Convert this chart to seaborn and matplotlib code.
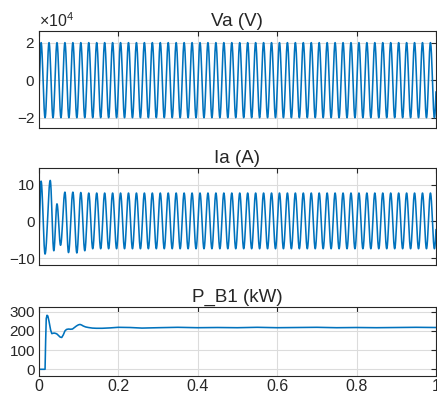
import numpy as np
import pandas as pd
import matplotlib
matplotlib.use("Agg")
import matplotlib.pyplot as plt
import seaborn as sns
from matplotlib.ticker import ScalarFormatter

# ---------------- data ----------------
freq_hz = 50.0
t_first_peak = 0.006          # time of first positive peak (s)
t_end = 1.0

# Va (V): start value, then alternating peaks/troughs
va_start = -0.6e4
va_peak = 2.0e4
va_trough = -2.0e4

# Ia (A): start value, transient extremes, then steady peaks/troughs
ia_start = -4.5
ia_trans_t = [0.006, 0.016, 0.029, 0.038, 0.046, 0.055, 0.066, 0.075, 0.086, 0.096, 0.106, 0.116]
ia_trans_v = [11.0, -8.9, 11.2, -8.0, 4.8, -6.5, 8.0, -8.5, 8.0, -8.6, 7.9, -8.0]
ia_peak = 7.75
ia_trough = -7.45

# P_B1 (kW): key points of the averaged power curve
p_t = [0.0, 0.016, 0.0175, 0.019, 0.021, 0.023, 0.026, 0.030, 0.033, 0.036, 0.039, 0.043,
       0.046, 0.050, 0.054, 0.058, 0.062, 0.066, 0.070, 0.075, 0.080, 0.085, 0.090, 0.095,
       0.100, 0.104, 0.108, 0.112, 0.118, 0.125, 0.135, 0.145, 0.160, 0.180, 0.200, 0.230,
       0.260, 0.300, 0.350, 0.400, 0.450, 0.500, 0.550, 0.600, 0.650, 0.700, 0.750, 0.800,
       0.850, 0.900, 0.950, 1.000]
p_v = [0, 0, 150, 265, 282, 278, 250, 205, 186, 188, 189, 187,
       184, 176, 168, 166, 180, 200, 208, 210, 209, 210, 218, 226,
       232, 234, 231, 226, 221, 218, 215, 214, 214, 216, 219, 218,
       215, 217, 219, 217, 218, 217, 219, 217, 218, 219, 217, 218,
       217, 218, 219, 218]

titles = ["Va (V)", "Ia (A)", "P_B1 (kW)"]
x_ticks = [0, 0.2, 0.4, 0.6, 0.8, 1.0]
x_ticklabels = ["0", "0.2", "0.4", "0.6", "0.8", "1"]
va_yticks = [-2e4, 0, 2e4]
ia_yticks = [-10, 0, 10]
p_yticks = [0, 100, 200, 300]


def extremes_to_wave(times, values, n_per_seg=40):
    """Half-cosine segments between consecutive extremes."""
    ts, vs = [], []
    for i in range(len(times) - 1):
        ta, tb = times[i], times[i + 1]
        a, b = values[i], values[i + 1]
        s = np.linspace(0, 1, n_per_seg, endpoint=False)
        ts.append(ta + s * (tb - ta))
        vs.append((a + b) / 2 + (a - b) / 2 * np.cos(np.pi * s))
    ts.append([times[-1]])
    vs.append([values[-1]])
    return np.concatenate(ts), np.concatenate(vs)


half = 0.5 / freq_hz
# Va extremes
va_t = [0.0]
va_v = [va_start]
k = 0
while t_first_peak + k * half <= t_end + half:
    va_t.append(t_first_peak + k * half)
    va_v.append(va_peak if k % 2 == 0 else va_trough)
    k += 1
va_tt, va_vv = extremes_to_wave(va_t, va_v)

# Ia extremes
ia_t = [0.0] + list(ia_trans_t)
ia_v = [ia_start] + list(ia_trans_v)
k = 1
while ia_trans_t[-1] + k * half <= t_end + half:
    ia_t.append(ia_trans_t[-1] + k * half)
    ia_v.append(ia_peak if k % 2 == 1 else ia_trough)
    k += 1
ia_tt, ia_vv = extremes_to_wave(ia_t, ia_v)

df_va = pd.DataFrame({"t": va_tt, "v": va_vv})
df_va = df_va[df_va.t <= t_end]
df_ia = pd.DataFrame({"t": ia_tt, "v": ia_vv})
df_ia = df_ia[df_ia.t <= t_end]
df_p = pd.DataFrame({"t": p_t, "v": p_v})

# ---------------- styling ----------------
sns.set_style("white")
plt.rcParams["font.family"] = ["Liberation Sans", "DejaVu Sans"]
plt.rcParams["mathtext.fontset"] = "custom"
plt.rcParams["mathtext.rm"] = "Liberation Sans"
plt.rcParams["mathtext.it"] = "Liberation Sans:italic"

line_color = "#0072BD"
text_color = "#262626"
grid_color = "#dcdcdc"

W, H = 437, 394
fig = plt.figure(figsize=(W / 100, H / 100), dpi=100)
fig.patch.set_facecolor("white")

left = 38.7 / W
right = 436 / W
boxes = [(31, 128), (168, 265), (307, 376)]
axes = []
for top, bot in boxes:
    ax = fig.add_axes([left, 1 - bot / H, right - left, (bot - top) / H])
    axes.append(ax)

datasets = [df_va, df_ia, df_p]
ylims = [(-2.55e4, 2.62e4), (-11.9, 14.6), (-35, 325)]
yticks = [va_yticks, ia_yticks, p_yticks]

for i, (ax, df) in enumerate(zip(axes, datasets)):
    sns.lineplot(data=df, x="t", y="v", ax=ax, color=line_color, linewidth=1.15,
                 estimator=None, sort=False, errorbar=None)
    ax.set_xlim(0, 1)
    ax.set_ylim(*ylims[i])
    ax.set_xticks(x_ticks)
    ax.set_yticks(yticks[i])
    ax.set_xlabel("")
    ax.set_ylabel("")
    ax.grid(True, color=grid_color, linewidth=0.8)
    ax.set_axisbelow(True)
    for sp in ax.spines.values():
        sp.set_color(text_color)
        sp.set_linewidth(0.8)
        sp.set_visible(True)
    ax.tick_params(direction="in", length=3.5, width=0.8, top=True, right=True,
                   labelsize=11, colors=text_color, pad=2.5)
    ax.set_title(titles[i], fontsize=13.5, color=text_color, pad=3.5)
    if i < 2:
        ax.set_xticklabels([])
    else:
        ax.set_xticklabels(x_ticklabels)
        ax.tick_params(axis="x", labelsize=11.5, pad=2)

fmt = ScalarFormatter(useMathText=True)
fmt.set_powerlimits((0, 0))
axes[0].yaxis.set_major_formatter(fmt)
axes[0].yaxis.get_offset_text().set_fontsize(11.5)
axes[0].yaxis.get_offset_text().set_color(text_color)

fig.savefig("out.png", dpi=100, facecolor="white")
